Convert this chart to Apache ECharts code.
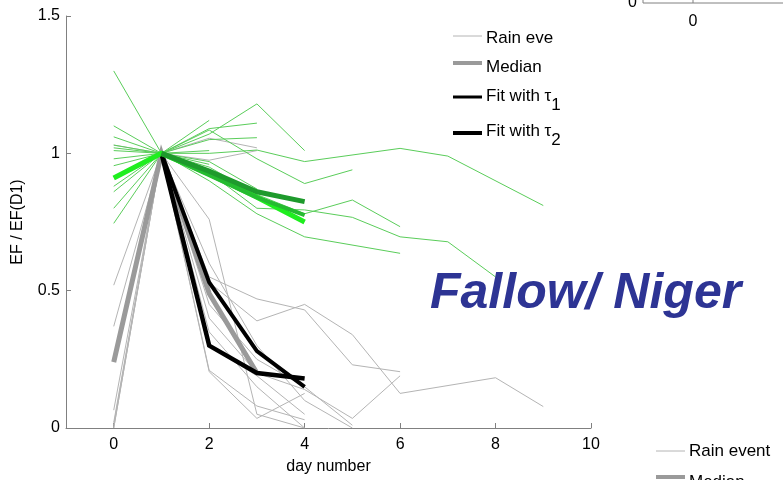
<!DOCTYPE html>
<html><head><meta charset="utf-8">
<script src="https://cdn.jsdelivr.net/npm/echarts@6/dist/echarts.min.js"></script>
<style>html,body{margin:0;padding:0;background:#fff}#c{width:783px;height:480px}</style>
</head><body><div id="c"></div>
<script>
// ---- data (day number, EF / EF(D1)) ----
const xTicks = [0, 2, 4, 6, 8, 10];
const greenEvents = [
  [[0,1.30],[1,1],[2,1.12]],
  [[0,1.10],[1,1],[2,1.07],[3,1.18],[4,1.01]],
  [[0,1.06],[1,1],[2,1.09],[3,1.11]],
  [[0,1.03],[1,1],[2,1.05],[3,1.057]],
  [[0,1.02],[1,1],[2,1.00],[3,1.012],[4,0.97],[6,1.018],[7,0.99],[9,0.81]],
  [[0,1.01],[1,1],[2,1.085],[3,0.98],[4,0.89],[5,0.94]],
  [[0,0.98],[1,1],[2,0.95],[3,0.85],[4,0.78],[5,0.83],[6,0.733]],
  [[0,0.955],[1,1],[2,0.93],[3,0.80],[4,0.794],[5,0.767],[6,0.696],[7,0.678],[8,0.55]],
  [[0,0.88],[1,1],[2,0.90],[3,0.78],[4,0.696],[6,0.636]],
  [[0,0.86],[1,1],[2,0.97],[3,0.87]],
  [[0,0.80],[1,1],[2,1.01]],
  [[0,0.745],[1,1],[2,0.96]]
];
const grayEvents = [
  [[0,1.03],[1,1],[2,1.055],[3,1.02]],
  [[0,0.52],[1,1],[2,0.975],[3,1.01]],
  [[0,0.37],[1,1],[2,0.76],[3,0.05],[4,0.0]],
  [[0,0.065],[1,1],[2,0.55],[3,0.47],[4,0.43],[5,0.23],[6,0.205]],
  [[0,0.02],[1,1],[2,0.53],[3,0.39],[4,0.45],[5,0.34],[6,0.126],[8,0.183],[9,0.078]],
  [[0,0.01],[1,1],[2,0.205],[3,0.035],[4,0.126]],
  [[0,0.0],[1,1],[2,0.40],[3,0.20],[4,0.14],[5,0.035],[6,0.19]],
  [[0,0.0],[1,1],[2,0.21],[3,0.08],[4,0.03]],
  [[1,1],[2,0.45],[3,0.25],[4,0.15],[5,0.01]],
  [[1,1],[2,0.60],[3,0.30],[4,0.10],[5,0.0]],
  [[1,1],[2,0.35],[3,0.15],[4,0.0]],
  [[1,1],[2,0.30],[3,0.19],[4,0.05]]
];
const grayMedian   = [[0,0.24],[1,1],[2,0.49],[3,0.20]];
const grayFitTau1  = [[1,1],[2,0.53],[3,0.28],[4,0.15]];
const grayFitTau2  = [[1,1],[2,0.30],[3,0.20],[4,0.18]];
const greenMedian  = [[0,0.91],[1,1],[2,0.925],[3,0.84],[4,0.75]];
const greenFitTau1 = [[1,1],[2,0.935],[3,0.86],[4,0.824]];
const greenFitTau2 = [[1,1],[2,0.92],[3,0.84],[4,0.775]];

const FONT = '"Liberation Sans", Arial, sans-serif';
function line(data, color, width, z) {
  return { type:'line', data, symbol:'none', silent:true, z:z||2,
    lineStyle:{ color, width, cap:'butt', join:'miter' }, animation:false };
}
const series = [];
grayEvents.forEach(d => series.push(line(d, '#b4b4b4', 1, 2)));
greenEvents.forEach(d => series.push(line(d, '#5acd5a', 1, 2)));
series.push(line(grayMedian, '#9a9a9a', 5, 3));
series.push(line(grayFitTau2, '#000000', 4.5, 4));
series.push(line(grayFitTau1, '#000000', 4, 4));
series.push(line(greenMedian, '#1fee1f', 5, 5));
series.push(line(greenFitTau2, '#25bb30', 4, 5));
series.push(line(greenFitTau1, '#1e9a2c', 5, 5));

const chart = echarts.init(document.getElementById('c'), null, {renderer:'canvas'});
const lx1 = 453, lx2 = 482, tx = 486;
chart.setOption({
  backgroundColor:'#fff',
  animation:false,
  grid:{ left:66, top:16, width:525, height:412, containLabel:false },
  xAxis:{ type:'value', min:-1, max:10,
    name:'day number', nameLocation:'middle', nameGap:31,
    nameTextStyle:{ color:'#000', fontSize:16, fontFamily:FONT },
    axisLine:{ onZero:false, lineStyle:{ color:'#808080', width:1 } },
    axisTick:{ inside:true, length:5, lineStyle:{color:'#808080'}, customValues:xTicks },
    axisLabel:{ color:'#000', fontSize:16, fontFamily:FONT, margin:9, customValues:xTicks },
    splitLine:{ show:false } },
  yAxis:{ type:'value', min:0, max:1.5, interval:0.5,
    name:'EF / EF(D1)', nameLocation:'middle', nameGap:40, nameRotate:90,
    nameTextStyle:{ color:'#000', fontSize:16, fontFamily:FONT },
    axisLine:{ show:true, onZero:false, lineStyle:{ color:'#808080', width:1 } },
    axisTick:{ show:true, inside:true, length:5, lineStyle:{color:'#808080'} },
    axisLabel:{ color:'#000', fontSize:16, fontFamily:FONT, margin:6 },
    splitLine:{ show:false } },
  series,
  graphic:[
    // legend
    { type:'line', shape:{x1:lx1,y1:36,x2:lx2,y2:36}, style:{stroke:'#b4b4b4', lineWidth:1}, z:10 },
    { type:'text', x:tx, y:38, style:{ text:'Rain event', font:'17px '+FONT, fill:'#000', verticalAlign:'middle', width:70, overflow:'truncate', ellipsis:'' }, z:10 },
    { type:'line', shape:{x1:lx1,y1:63,x2:lx2,y2:63}, style:{stroke:'#9a9a9a', lineWidth:4}, z:10 },
    { type:'text', x:tx, y:67, style:{ text:'Median', font:'17px '+FONT, fill:'#000', verticalAlign:'middle' }, z:10 },
    { type:'line', shape:{x1:lx1,y1:97,x2:lx2,y2:97}, style:{stroke:'#000', lineWidth:3}, z:10 },
    { type:'text', x:tx, y:96, style:{ text:'{a|Fit with τ}{s|1}', fill:'#000', verticalAlign:'middle',
        rich:{ a:{ fontSize:17, fontFamily:FONT, fill:'#000' }, s:{ fontSize:17, fontFamily:FONT, fill:'#000', padding:[18,0,0,0] } } }, z:10 },
    { type:'line', shape:{x1:lx1,y1:133,x2:lx2,y2:133}, style:{stroke:'#000', lineWidth:4}, z:10 },
    { type:'text', x:tx, y:131, style:{ text:'{a|Fit with τ}{s|2}', fill:'#000', verticalAlign:'middle',
        rich:{ a:{ fontSize:17, fontFamily:FONT, fill:'#000' }, s:{ fontSize:17, fontFamily:FONT, fill:'#000', padding:[18,0,0,0] } } }, z:10 },
    // site title
    { type:'text', x:430, y:294, style:{ text:'Fallow/ Niger', font:'italic bold 50px '+FONT, fill:'#2d3494', verticalAlign:'middle' }, z:10 },
    // fragment of neighbouring chart (top right)
    { type:'line', shape:{x1:643,y1:3,x2:783,y2:3}, style:{stroke:'#808080', lineWidth:1}, z:10 },
    { type:'line', shape:{x1:643,y1:0,x2:643,y2:3}, style:{stroke:'#808080', lineWidth:1}, z:10 },
    { type:'line', shape:{x1:693,y1:0,x2:693,y2:3}, style:{stroke:'#808080', lineWidth:1}, z:10 },
    { type:'text', x:637, y:3, style:{ text:'0', font:'16px '+FONT, fill:'#000', align:'right', verticalAlign:'middle' }, z:10 },
    { type:'text', x:693, y:22, style:{ text:'0', font:'16px '+FONT, fill:'#000', align:'center', verticalAlign:'middle' }, z:10 },
    // fragment of neighbouring legend (bottom right)
    { type:'line', shape:{x1:656,y1:451,x2:685,y2:451}, style:{stroke:'#b4b4b4', lineWidth:1}, z:10 },
    { type:'text', x:689, y:451, style:{ text:'Rain event', font:'17px '+FONT, fill:'#000', verticalAlign:'middle' }, z:10 },
    { type:'line', shape:{x1:656,y1:477,x2:685,y2:477}, style:{stroke:'#9a9a9a', lineWidth:4}, z:10 },
    { type:'text', x:689, y:482, style:{ text:'Median', font:'17px '+FONT, fill:'#000', verticalAlign:'middle' }, z:10 }
  ]
});
</script></body></html>
